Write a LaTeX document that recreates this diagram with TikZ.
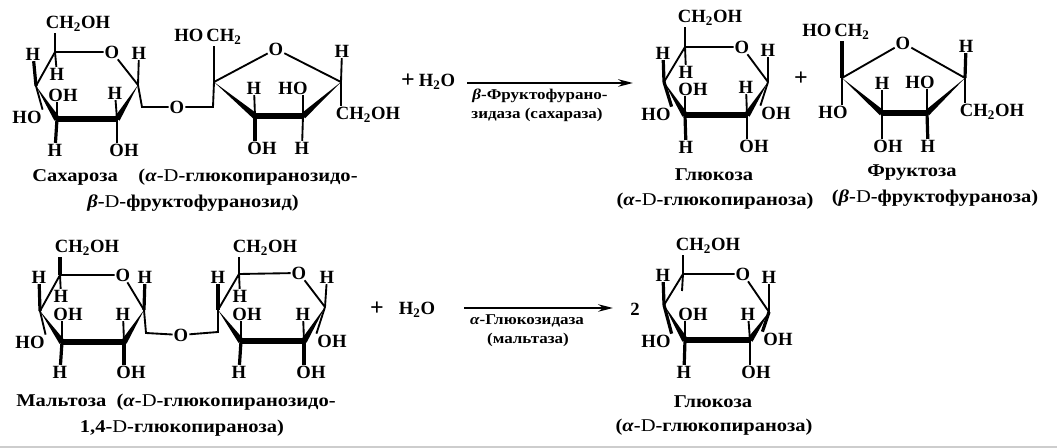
\documentclass[tikz,border=0pt]{standalone}
\usepackage{fontspec}
\setmainfont{Liberation Serif}
\newfontfamily\widefont[FakeStretch=1.14]{Liberation Serif}
\usepackage{tikz}
\usetikzlibrary{arrows.meta,calc}
\definecolor{edgegray}{RGB}{205,205,205}
\newcommand{\wedgebond}[2]{\fill ($(#2)!2.3pt!90:(#1)$) -- ($(#2)!2.3pt!-90:(#1)$) -- (#1) -- cycle;}
\newcommand{\chtwo}{CH\textsubscript{2}}

\begin{document}
\begin{tikzpicture}[x=0.75pt,y=-0.75pt,
    atom/.style={inner sep=0.6pt, font=\fontsize{14}{14}\selectfont\bfseries},
    plusmark/.style={inner sep=0pt, font=\fontsize{18}{18}\selectfont\bfseries},
    caption/.style={inner sep=0pt, font=\widefont\fontsize{13.5}{15}\selectfont\bfseries},
    enzyme/.style={inner sep=0pt, font=\widefont\fontsize{11.2}{12}\selectfont\bfseries},
    bond/.style={line width=1.4pt},
    bondfat/.style={line width=2.4pt},
    bondheavy/.style={line width=4.6pt},
    arr/.style={-{Stealth[length=11pt,width=5.5pt]}, line width=1.9pt}
]
    \useasboundingbox (0,0) rectangle (1057,448);
    \fill[edgegray] (0,446) rectangle (1057,448);

    % sucrose, glucose ring
    \coordinate (sgC1) at (138,85);
    \coordinate (sgC2) at (117,119);
    \coordinate (sgC3) at (57,119);
    \coordinate (sgC4) at (36,86);
    \coordinate (sgC5) at (55,52);
    \node[atom] (sgO)   at (112,52)  {O};
    \node[atom] (sgCH)  at (78,24)   {\chtwo OH};
    \node[atom] (sgH1)  at (139,53)  {H};
    \node[atom] (sgH2)  at (115,93)  {H};
    \node[atom] (sgOH2) at (124,150) {OH};
    \node[atom] (sgH3)  at (55,150)  {H};
    \node[atom] (sgOH3) at (63,95)   {OH};
    \node[atom] (sgH4)  at (33,54)   {H};
    \node[atom] (sgHO4) at (27,117)  {HO};
    \node[atom] (sgH5)  at (57,74)   {H};
    \draw[bond] (sgC5) -- (sgO) -- (sgC1);
    \draw[bond] (sgC4) -- (sgC5);
    \wedgebond{sgC4}{sgC3}
    \wedgebond{sgC1}{sgC2}
    \draw[bondheavy] (sgC3) -- (sgC2);
    \draw[bond] (sgC5) -- (sgC5 |- sgCH.south);
    \draw[bond] (sgC5) -- (sgH5);
    \draw[bond] (sgC1) -- (sgH1);
    \draw[bond] (sgC2) -- (sgH2);
    \draw[bond] (sgC2) -- (sgOH2.north -| sgC2);
    \draw[bondfat] (sgC3) -- (sgH3);
    \draw[bond] (sgC3) -- (sgOH3.south -| sgC3);
    \draw[bondfat] (sgC4) -- (sgH4);
    \draw[bond] (sgC4) -- (sgHO4.north east);

    % sucrose, bridge and fructose ring
    \coordinate (slA) at (142,107);
    \coordinate (slB) at (213,107);
    \node[atom] (slO) at (177,107) {O};
    \coordinate (sfC2) at (214,82);
    \coordinate (sfC3) at (255,116);
    \coordinate (sfC4) at (303,116);
    \coordinate (sfC5) at (341,82);
    \node[atom] (sfO)    at (276,49)  {O};
    \node[atom] (sfHOCH) at (208,37)  {HO\,\chtwo};
    \node[atom] (sfH3)   at (254,88)  {H};
    \node[atom] (sfOH3)  at (262,148) {OH};
    \node[atom] (sfHO4)  at (293,88)  {HO};
    \node[atom] (sfH4)   at (302,148) {H};
    \node[atom] (sfH5)   at (342,51)  {H};
    \node[atom] (sfCH)   at (368,115) {\chtwo OH};
    \draw[bond] (sgC1) -- (slA) -- (slO) -- (slB) -- (sfC2);
    \draw[bond] (sfC2) -- (sfO) -- (sfC5);
    \wedgebond{sfC2}{sfC3}
    \wedgebond{sfC5}{sfC4}
    \draw[bondheavy] (sfC3) -- (sfC4);
    \draw[bond] (sfC2) -- (sfC2 |- sfHOCH.south);
    \draw[bond] (sfC3) -- (sfH3);
    \draw[bondfat] (sfC3) -- (sfOH3.north -| sfC3);
    \draw[bond] (sfC4) -- (sfHO4.south -| sfC4);
    \draw[bond] (sfC4) -- (sfH4);
    \draw[bond] (sfC5) -- (sfH5);
    \draw[bond] (sfC5) -- (sfC5 |- sfCH.north);

    \node[caption] (sCap1) at (195,177) {Сахароза\ \ \ \ (\textit{α}-\textmd{D}-глюкопиранозидо-};
    \node[caption] (sCap2) at (193,203) {\textit{β}-\textmd{D}-фруктофуранозид)};

    % first reaction
    \node[plusmark] (rPlusA) at (408,81) {+};
    \node[atom] (rWaterA) at (437,82) {H\textsubscript{2}O};
    \coordinate (rStartA) at (467,83);
    \coordinate (rEndA) at (633,83);
    \draw[arr] (rStartA) -- (rEndA);
    \node[enzyme] (rEnzA1) at (540,96) {\textit{β}-Фруктофурано-};
    \node[enzyme] (rEnzA2) at (537,115) {зидаза (сахараза)};

    % glucose
    \coordinate (gC1) at (768,82);
    \coordinate (gC2) at (747,115);
    \coordinate (gC3) at (685,115);
    \coordinate (gC4) at (664,82);
    \coordinate (gC5) at (685,47);
    \node[atom] (gO)   at (742,47)  {O};
    \node[atom] (gCH)  at (710,18)  {\chtwo OH};
    \node[atom] (gH1)  at (768,50)  {H};
    \node[atom] (gOH1) at (776,113) {OH};
    \node[atom] (gH2)  at (746,87)  {H};
    \node[atom] (gOH2) at (754,146) {OH};
    \node[atom] (gH3)  at (686,147) {H};
    \node[atom] (gOH3) at (693,89)  {OH};
    \node[atom] (gH4)  at (663,53)  {H};
    \node[atom] (gHO4) at (656,114) {HO};
    \node[atom] (gH5)  at (686,72)  {H};
    \draw[bond] (gC5) -- (gO) -- (gC1);
    \draw[bond] (gC4) -- (gC5);
    \wedgebond{gC4}{gC3}
    \wedgebond{gC1}{gC2}
    \draw[bondheavy] (gC3) -- (gC2);
    \draw[bond] (gC5) -- (gC5 |- gCH.south);
    \draw[bond] (gC5) -- (gH5);
    \draw[bond] (gC1) -- (gH1);
    \draw[bond] (gC1) -- (gOH1.north west);
    \draw[bond] (gC2) -- (gH2);
    \draw[bond] (gC2) -- (gOH2.north -| gC2);
    \draw[bondfat] (gC3) -- (gH3);
    \draw[bond] (gC3) -- (gOH3.south -| gC3);
    \draw[bondfat] (gC4) -- (gH4);
    \draw[bondfat] (gC4) -- (gHO4.north east);
    \node[caption] (gCap1) at (714,175) {Глюкоза};
    \node[caption] (gCap2) at (715,201) {(\textit{α}-\textmd{D}-глюкопираноза)};

    \node[plusmark] (rPlusB) at (801,79) {+};

    % fructose
    \coordinate (fC2) at (842,78);
    \coordinate (fC3) at (882,113);
    \coordinate (fC4) at (927,113);
    \coordinate (fC5) at (965,78);
    \node[atom] (fO)    at (903,43)  {O};
    \node[atom] (fHOCH) at (836,32)  {HO\,\chtwo};
    \node[atom] (fHO2)  at (833,112) {HO};
    \node[atom] (fH3)   at (882,83)  {H};
    \node[atom] (fOH3)  at (888,146) {OH};
    \node[atom] (fHO4)  at (920,82)  {HO};
    \node[atom] (fH4)   at (928,146) {H};
    \node[atom] (fH5)   at (966,46)  {H};
    \node[atom] (fCH)   at (992,112) {\chtwo OH};
    \draw[bond] (fC2) -- (fO) -- (fC5);
    \wedgebond{fC2}{fC3}
    \wedgebond{fC5}{fC4}
    \draw[bondheavy] (fC3) -- (fC4);
    \draw[bondfat] (fC2) -- (fC2 |- fHOCH.south);
    \draw[bond] (fC2) -- (fHO2.north -| fC2);
    \draw[bond] (fC3) -- (fH3);
    \draw[bond] (fC3) -- (fOH3.north -| fC3);
    \draw[bond] (fC4) -- (fHO4.south -| fC4);
    \draw[bondfat] (fC4) -- (fH4);
    \draw[bondfat] (fC5) -- (fH5);
    \draw[bond] (fC5) -- (fC5 |- fCH.north);
    \node[caption] (fCap1) at (912,173) {Фруктоза};
    \node[caption] (fCap2) at (935,198) {(\textit{β}-\textmd{D}-фруктофураноза)};

    % maltose, first ring
    \coordinate (maC1) at (144,310);
    \coordinate (maC2) at (124,342);
    \coordinate (maC3) at (62,342);
    \coordinate (maC4) at (40,311);
    \coordinate (maC5) at (60,275);
    \node[atom] (maO)   at (123,275) {O};
    \node[atom] (maCH)  at (87,248)  {\chtwo OH};
    \node[atom] (maH1)  at (145,277) {H};
    \node[atom] (maH2)  at (123,314) {H};
    \node[atom] (maOH2) at (131,372) {OH};
    \node[atom] (maH3)  at (60,372)  {H};
    \node[atom] (maOH3) at (68,314)  {OH};
    \node[atom] (maH4)  at (39,277)  {H};
    \node[atom] (maHO4) at (30,342)  {HO};
    \node[atom] (maH5)  at (61,296)  {H};
    \draw[bond] (maC5) -- (maO) -- (maC1);
    \draw[bond] (maC4) -- (maC5);
    \wedgebond{maC4}{maC3}
    \wedgebond{maC1}{maC2}
    \draw[bondheavy] (maC3) -- (maC2);
    \draw[bondfat] (maC5) -- (maC5 |- maCH.south);
    \draw[bond] (maC5) -- (maH5);
    \draw[bondfat] (maC1) -- (maH1);
    \draw[bond] (maC2) -- (maH2);
    \draw[bondfat] (maC2) -- (maOH2.north -| maC2);
    \draw[bondfat] (maC3) -- (maH3);
    \draw[bond] (maC3) -- (maOH3.south -| maC3);
    \draw[bondfat] (maC4) -- (maH4);
    \draw[bond] (maC4) -- (maHO4.north east);

    % maltose, bridge and second ring
    \coordinate (mlA) at (146,333);
    \coordinate (mlB) at (218,332);
    \node[atom] (mlO) at (181,335) {O};
    \coordinate (mbC1) at (325,307);
    \coordinate (mbC2) at (304,341);
    \coordinate (mbC3) at (241,341);
    \coordinate (mbC4) at (218,310);
    \coordinate (mbC5) at (239,274);
    \node[atom] (mbO)   at (299,273) {O};
    \node[atom] (mbCH)  at (265,248) {\chtwo OH};
    \node[atom] (mbH1)  at (327,277) {H};
    \node[atom] (mbOH1) at (332,341) {OH};
    \node[atom] (mbH2)  at (303,314) {H};
    \node[atom] (mbOH2) at (311,372) {OH};
    \node[atom] (mbH3)  at (239,372) {H};
    \node[atom] (mbOH3) at (247,314) {OH};
    \node[atom] (mbH4)  at (218,277) {H};
    \node[atom] (mbH5)  at (240,296) {H};
    \draw[bond] (maC1) -- (mlA) -- (mlO) -- (mlB) -- (mbC4);
    \draw[bond] (mbC5) -- (mbO) -- (mbC1);
    \draw[bond] (mbC4) -- (mbC5);
    \wedgebond{mbC4}{mbC3}
    \wedgebond{mbC1}{mbC2}
    \draw[bondheavy] (mbC3) -- (mbC2);
    \draw[bond] (mbC5) -- (mbC5 |- mbCH.south);
    \draw[bond] (mbC5) -- (mbH5);
    \draw[bond] (mbC1) -- (mbH1);
    \draw[bond] (mbC1) -- (mbOH1.north west);
    \draw[bond] (mbC2) -- (mbH2);
    \draw[bondfat] (mbC2) -- (mbOH2.north -| mbC2);
    \draw[bondfat] (mbC3) -- (mbH3);
    \draw[bond] (mbC3) -- (mbOH3.south -| mbC3);
    \draw[bondfat] (mbC4) -- (mbH4);

    \node[caption] (mCap1) at (176,402) {Мальтоза\ \ (\textit{α}-\textmd{D}-глюкопиранозидо-};
    \node[caption] (mCap2) at (182,428) {1,4-\textmd{D}-глюкопираноза)};

    % second reaction
    \node[plusmark] (rPlusC) at (377,309) {+};
    \node[atom] (rWaterC) at (417,310) {H\textsubscript{2}O};
    \coordinate (rStartC) at (464,308);
    \coordinate (rEndC) at (613,308);
    \draw[arr] (rStartC) -- (rEndC);
    \node[enzyme] (rEnzC1) at (527,321) {\textit{α}-Глюкозидаза};
    \node[enzyme] (rEnzC2) at (528,340) {(мальтаза)};
    \node[atom] (rTwo) at (635,309) {2};

    % glucose, second reaction
    \coordinate (hC1) at (769,312);
    \coordinate (hC2) at (750,340);
    \coordinate (hC3) at (685,340);
    \coordinate (hC4) at (664,305);
    \coordinate (hC5) at (683,274);
    \coordinate (hStub) at (682,291);
    \node[atom] (hO)   at (743,274) {O};
    \node[atom] (hCH)  at (708,246) {\chtwo OH};
    \node[atom] (hH1)  at (769,277) {H};
    \node[atom] (hOH1) at (778,339) {OH};
    \node[atom] (hH2)  at (748,314) {H};
    \node[atom] (hOH2) at (756,372) {OH};
    \node[atom] (hH3)  at (684,372) {H};
    \node[atom] (hOH3) at (693,314) {OH};
    \node[atom] (hH4)  at (663,275) {H};
    \node[atom] (hHO4) at (656,341) {HO};
    \draw[bond] (hC5) -- (hO) -- (hC1);
    \draw[bond] (hC4) -- (hC5);
    \wedgebond{hC4}{hC3}
    \wedgebond{hC1}{hC2}
    \draw[bondheavy] (hC3) -- (hC2);
    \draw[bond] (hC5) -- (hC5 |- hCH.south);
    \draw[bond] (hC5) -- (hStub);
    \draw[bond] (hC1) -- (hH1);
    \draw[bondfat] (hC1) -- (hOH1.north west);
    \draw[bond] (hC2) -- (hH2);
    \draw[bond] (hC2) -- (hOH2.north -| hC2);
    \draw[bondfat] (hC3) -- (hH3);
    \draw[bond] (hC3) -- (hOH3.south -| hC3);
    \draw[bondfat] (hC4) -- (hH4);
    \draw[bondfat] (hC4) -- (hHO4.north east);
    \node[caption] (hCap1) at (713,402) {Глюкоза};
    \node[caption] (hCap2) at (714,427) {(\textit{α}-\textmd{D}-глюкопираноза)};
\end{tikzpicture}
\end{document}
